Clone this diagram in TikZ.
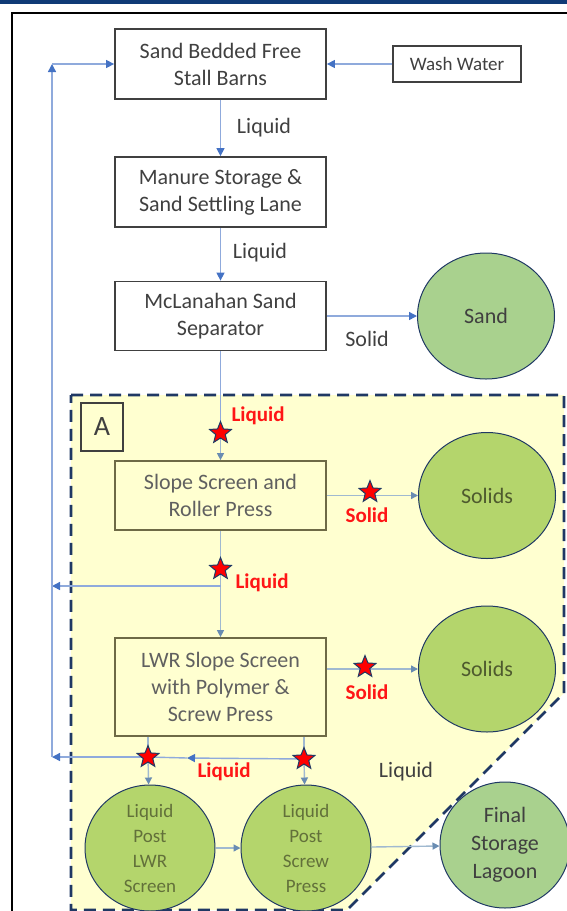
\documentclass[tikz,border=0pt]{standalone}
\usepackage{fontspec}
\setmainfont{Carlito}
\usetikzlibrary{arrows.meta,positioning,shapes.geometric}
\definecolor{navy}{RGB}{31,56,100}
\definecolor{topbar}{RGB}{16,58,118}
\definecolor{pale}{RGB}{255,255,208}
\definecolor{sandgreen}{RGB}{169,209,142}
\definecolor{lime}{RGB}{180,213,108}
\definecolor{flowblue}{RGB}{68,114,196}
\definecolor{lineblue}{RGB}{143,170,220}
\definecolor{steel}{RGB}{105,140,178}
\definecolor{steelline}{RGB}{160,185,208}
\definecolor{olive}{RGB}{110,106,70}
\definecolor{ink}{RGB}{64,64,64}
\definecolor{txtgray}{RGB}{96,96,96}
\definecolor{leaftext}{RGB}{98,112,58}
\definecolor{alert}{RGB}{255,22,22}
\tikzset{
  box/.style={draw=#1,line width=1.8pt,fill=white,minimum width=211pt,minimum height=70pt,
    align=center,font=\fontsize{22}{27}\selectfont,text=ink,inner sep=2pt},
  box/.default=ink,
  abox/.style={box=olive,fill=pale,text=txtgray},
  blob/.style={ellipse,draw=navy,line width=1pt,fill=#1,minimum width=137pt,minimum height=126pt,
    inner sep=0pt,align=center,font=\fontsize{22}{28}\selectfont,text=ink},
  blob/.default=sandgreen,
  flow/.style={draw=lineblue,line width=1.4pt,-{Triangle[length=8pt,width=8pt,color=flowblue]}},
  flowA/.style={draw=steelline,line width=1.4pt,-{Triangle[length=7pt,width=7pt,color=steel]}},
  pipe/.style={draw=lineblue,line width=1.4pt},
  pipeA/.style={draw=steelline,line width=1.4pt},
  hit/.style={star,star points=5,star point ratio=2.3,fill=red,draw=navy,line width=1pt,
    minimum size=23pt,inner sep=0pt},
  tag/.style={font=\fontsize{22}{27}\selectfont,text=ink},
  alerttag/.style={font=\bfseries\fontsize{21}{27}\selectfont,text=alert},
}
\begin{document}
\begin{tikzpicture}[x=1pt,y=-1pt]
  \useasboundingbox (0,0) rectangle (567,911);
  \clip (0,0) rectangle (567,911);
  \fill[topbar] (0,0) rectangle (567,3.5);
  \draw[black,line width=1.3pt] (12,920) -- (12,13) -- (580,13);
  % stage A
  \fill[pale] (71,395) -- (564,395) -- (564,693) -- (347,910) -- (71,910) -- cycle;
  \draw[navy,line width=2.8pt,dash pattern=on 12pt off 7pt] (71,395) -- (564,395) -- (564,693) -- (347,910) -- (71,910) -- cycle;
  \node[draw=ink,line width=1.8pt,minimum width=42pt,minimum height=48pt,text=ink,
    font=\fontsize{28}{30}\selectfont] (tagA) at (102,427) {A};

  \node[box] (barns) at (220.5,64) {Sand Bedded Free\\Stall Barns};
  \node[box,minimum width=128pt,minimum height=36pt,font=\fontsize{19}{22}\selectfont] (wash) at (457,64) {Wash Water};
  \node[box] (storage) at (220.5,192) {Manure Storage \&\\Sand Settling Lane};
  \node[box,minimum height=69pt] (separator) at (220.5,316) {McLanahan Sand\\Separator};
  \node[blob] (sand) at (486,316) {Sand};

  \node[abox,minimum height=69pt] (slope) at (220.5,495.5) {Slope Screen and\\Roller Press};
  \node[blob=lime,text=leaftext!80!black] (solids1) at (487,495.5) {Solids};
  \node[abox,minimum height=98pt] (lwr) at (220.5,687) {LWR Slope Screen\\with Polymer \&\\Screw Press};
  \node[blob=lime,text=leaftext!80!black] (solids2) at (487,669) {Solids};
  \node[blob=lime,minimum width=130pt,text=leaftext,font=\fontsize{19}{25}\selectfont] (postlwr) at (150,848) {Liquid\\Post\\LWR\\Screen};
  \node[blob=lime,minimum width=130pt,text=leaftext,font=\fontsize{19}{25}\selectfont] (postscrew) at (306,848) {Liquid\\Post\\Screw\\Press};
  \node[blob,minimum width=130pt] (lagoon) at (505,845) {Final\\Storage\\Lagoon};

  % sample points
  \coordinate (k1) at (220.5,433);
  \coordinate (k2) at (370,492);
  \coordinate (k3) at (220.5,569);
  \coordinate (k4) at (365,667);
  \coordinate (k5) at (148,757);
  \coordinate (k6) at (304,759);
  \coordinate (up) at (52,64);
  \coordinate (low) at (52,757);
  \coordinate (mid) at (52,586);
  \coordinate (tee) at (220.5,586);
  \coordinate (cut) at (187,758);

  \draw[flow] (wash) -- (barns);
  \draw[flow] (barns) -- (storage);
  \draw[flow] (storage) -- (separator);
  \draw[flow] (separator) -- (sand);
  \draw[pipe] (separator) -- (k1);
  \draw[flowA] (k1) -- (slope);
  \draw[flowA] (slope) -- (solids1);
  \draw[pipeA] (slope) -- (k3);
  \draw[flowA] (k3) -- (lwr);
  \draw[flow] (tee) -- (mid);
  \draw[flowA] (lwr.east |- solids2) -- (solids2);
  \draw[pipeA] (lwr.south -| k5) -- (k5);
  \draw[pipeA] (lwr.south -| k6) -- (k6);
  \draw[flowA] (k5) -- (postlwr);
  \draw[flowA] (k6) -- (postscrew);
  \draw[flow] (k6) -- (cut);
  \draw[pipe] (cut) -- (k5);
  \draw[flow] (k5) -- (low);
  \draw[flow] (low) -- (up);
  \draw[flow] (up) -- (barns);
  \draw[flowA] (postlwr) -- (postscrew);
  \draw[flowA] (postscrew) -- (lagoon);

  \foreach \k [count=\i] in {k1,k2,k3,k4,k5,k6}
    \node[hit] (star\i) at (\k) {};

  \node[tag] (liq1) at (264,128) {Liquid};
  \node[tag] (liq2) at (260,253) {Liquid};
  \node[tag] (sol1) at (367,339) {Solid};
  \node[alerttag] (liq3) at (258,416) {Liquid};
  \node[alerttag] (sol2) at (367,515) {Solid};
  \node[alerttag] (liq4) at (262,583) {Liquid};
  \node[alerttag] (sol3) at (367,692) {Solid};
  \node[alerttag] (liq5) at (224,772) {Liquid};
  \node[tag] (liq6) at (406,772) {Liquid};
\end{tikzpicture}
\end{document}
